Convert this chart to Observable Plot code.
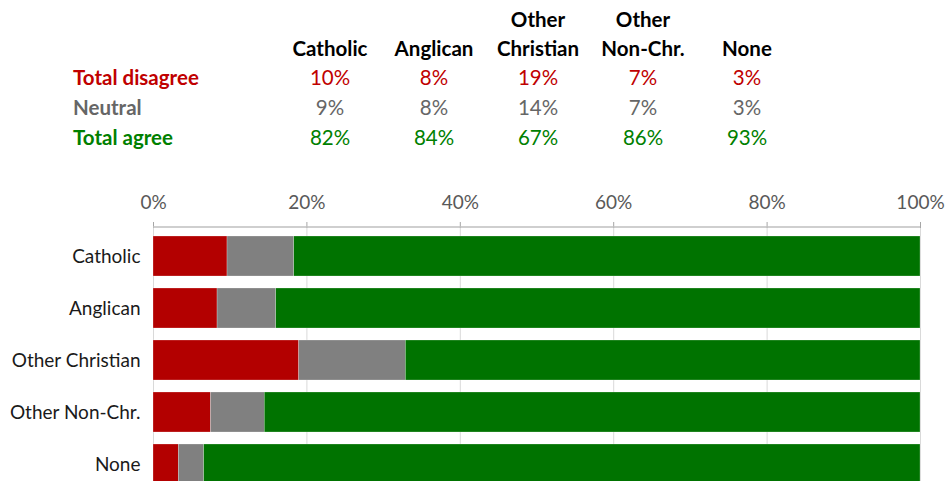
<!DOCTYPE html>
<html>
<head>
<meta charset="utf-8">
<script src="https://cdn.jsdelivr.net/npm/d3@7"></script>
<script src="https://cdn.jsdelivr.net/npm/@observablehq/plot@0.6"></script>
<style>
  html, body { margin: 0; padding: 0; background: #fff; }
  body { width: 946px; font-family: Lato, "Open Sans", sans-serif; }
  #table { position: relative; height: 182px; width: 946px; }
  #table div { position: absolute; white-space: nowrap; font-size: 20.5px; line-height: 1; }
  #chart svg { display: block; }
</style>
</head>
<body>
<div id="table"></div>
<div id="chart"></div>
<script>
// Categories
const groups = ["Catholic", "Anglican", "Other Christian", "Other Non-Chr.", "None"];
const headerLines = [["", "Catholic"], ["", "Anglican"], ["Other", "Christian"], ["Other", "Non-Chr."], ["", "None"]];
const rowLabels = ["Total disagree", "Neutral", "Total agree"];
// Table values (rounded, as printed)
const tableDisagree = ["10%", "8%", "19%", "7%", "3%"];
const tableNeutral = ["9%", "8%", "14%", "7%", "3%"];
const tableAgree = ["82%", "84%", "67%", "86%", "93%"];
// Bar values (percent)
const disagree = [9.65, 8.35, 19.0, 7.5, 3.3];
const neutral = [8.7, 7.65, 13.9, 7.0, 3.3];
const agree = [81.65, 84.0, 67.1, 85.5, 93.4];
const xTicks = [0, 20, 40, 60, 80, 100];

const seriesNames = ["Total disagree", "Neutral", "Total agree"];
const barColors = ["#b30000", "#808080", "#007300"];
const textColors = ["#c00000", "#666666", "#008000"];

// --- Table (HTML text) ---
const table = document.getElementById("table");
const colX = [330, 434, 538, 643, 747];
const rowY = [78, 108, 138];
function addText(txt, x, y, opts) {
  const d = document.createElement("div");
  d.textContent = txt;
  d.style.left = x + "px";
  d.style.top = (y - 11) + "px";
  if (opts.center) d.style.transform = "translateX(-50%)";
  d.style.color = opts.color;
  d.style.fontWeight = opts.bold ? "700" : "400";
  table.appendChild(d);
}
headerLines.forEach((lines, i) => {
  if (lines[0]) addText(lines[0], colX[i], 20, {center: true, color: "#000", bold: true});
  addText(lines[1], colX[i], 49, {center: true, color: "#000", bold: true});
});
rowLabels.forEach((r, j) => addText(r, 73, rowY[j], {color: textColors[j], bold: true}));
[tableDisagree, tableNeutral, tableAgree].forEach((vals, j) => {
  vals.forEach((v, i) => addText(v, colX[i], rowY[j], {center: true, color: textColors[j]}));
});

// --- Bars ---
const data = [];
groups.forEach((g, i) => {
  data.push({group: g, series: seriesNames[0], value: disagree[i]});
  data.push({group: g, series: seriesNames[1], value: neutral[i]});
  data.push({group: g, series: seriesNames[2], value: agree[i]});
});

const chart = Plot.plot({
  width: 946,
  height: 320,
  marginLeft: 153,
  marginRight: 26,
  marginTop: 45,
  marginBottom: 9,
  style: {fontFamily: "Lato, 'Open Sans', sans-serif", fontSize: "19px", background: "#fff"},
  x: {domain: [0, 100], ticks: xTicks, axis: null},
  y: {domain: groups, paddingInner: 0.23, paddingOuter: 0.13, axis: null},
  color: {domain: seriesNames, range: barColors},
  marks: [
    Plot.ruleX(xTicks, {stroke: "#d9d9d9", strokeWidth: 1}),
    Plot.barX(data, Plot.stackX({
      x: "value", y: "group", fill: "series", order: seriesNames,
      stroke: "#ffffff", strokeWidth: 0.4, strokeOpacity: 0.6
    })),
    Plot.axisX({anchor: "top", ticks: xTicks, tickSize: 6, tickPadding: 13, label: null,
      tickFormat: d => d + "%", stroke: "#a6a6a6", fill: "#595959", fontSize: 19}),
    (index, scales, values, dims) => {
      const line = d3.create("svg:line")
        .attr("x1", scales.x(0)).attr("x2", scales.x(100))
        .attr("y1", dims.marginTop).attr("y2", dims.marginTop)
        .attr("stroke", "#bfbfbf").attr("stroke-width", 1.5);
      return line.node();
    },
    Plot.axisY({anchor: "left", tickSize: 0, tickPadding: 13, fill: "#1a1a1a", fontSize: 19, label: null})
  ]
});
document.getElementById("chart").appendChild(chart);
</script>
</body>
</html>
